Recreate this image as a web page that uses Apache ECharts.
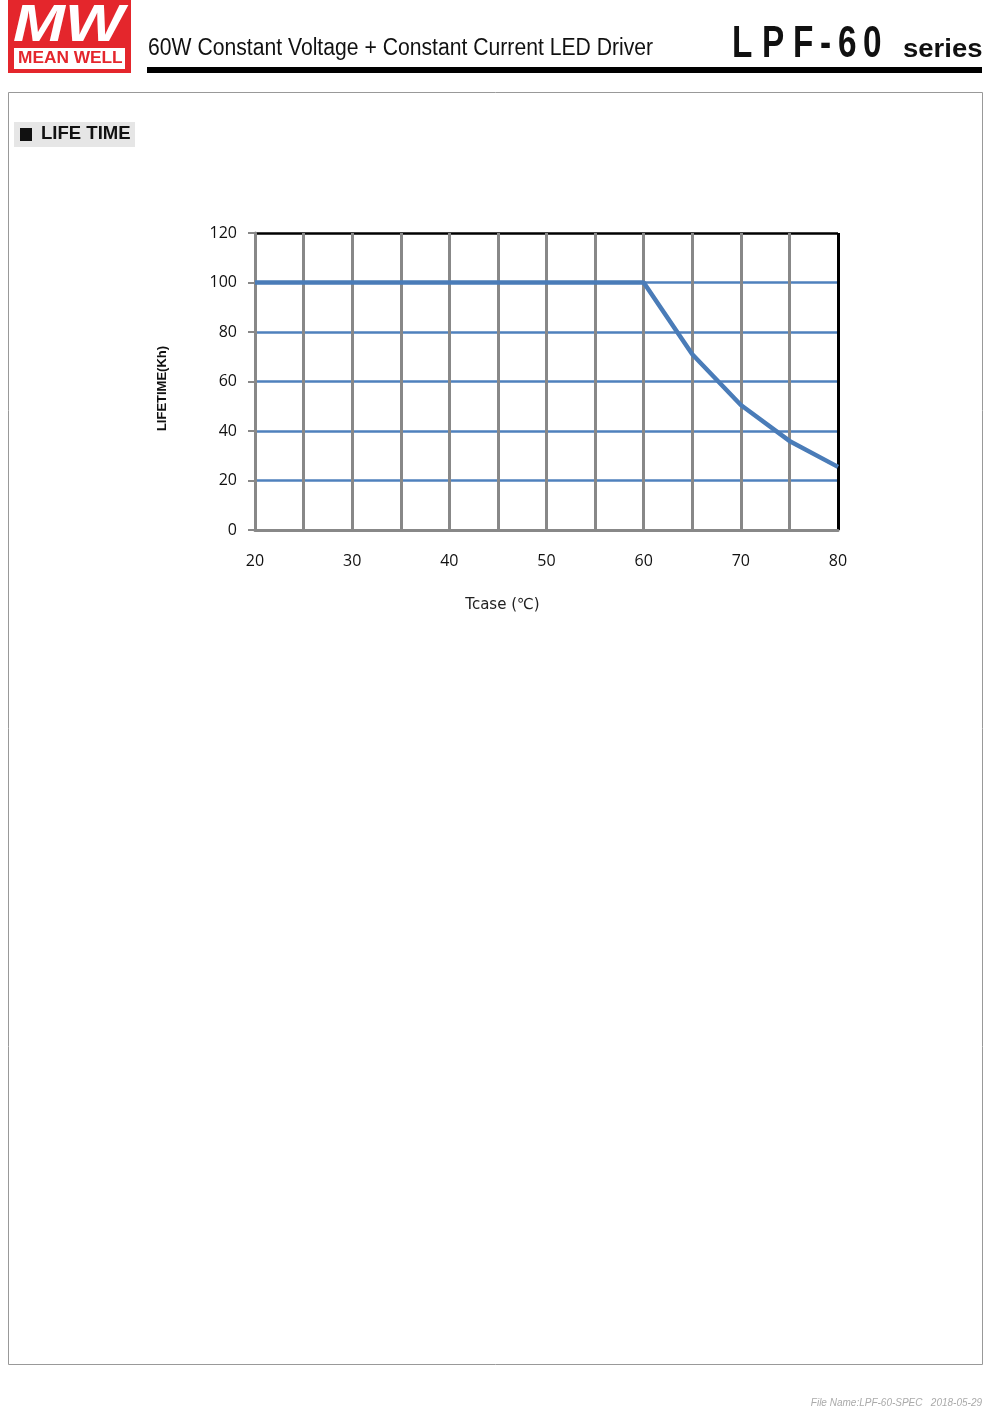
<!DOCTYPE html>
<html>
<head>
<meta charset="utf-8">
<script src="https://cdn.jsdelivr.net/npm/echarts@6/dist/echarts.min.js"></script>
<style>
  html, body { margin: 0; padding: 0; background: #fff; }
  #lifetime { width: 1000px; height: 1414px; }
</style>
</head>
<body>
<div id="lifetime"></div>
<script>
// ==============================================================
// LIFE TIME chart (LPF-60)
// ==============================================================
var tcase = [20, 60, 65, 70, 75, 80];
var lifetimeKh = [100, 100, 71, 50.5, 36, 25.5];
var xLabels = [20, 30, 40, 50, 60, 70, 80];
var yTicks = [0, 20, 40, 60, 80, 100, 120];

var dom = document.getElementById("lifetime");
var myChart = echarts.init(dom, null, { renderer: 'canvas' });

var seriesData = tcase.map(function (t, i) { return [t, lifetimeKh[i]]; });

// header: LPF-60 drawn letter by letter (wide spacing, condensed glyphs)
var model = 'LPF-60';
var modelX = [732, 762, 793, 820, 838, 863];
var modelChars = model.split('').map(function (c, i) {
    return {
        type: 'text', x: modelX[i], y: 22, scaleX: 0.74,
        style: { text: c, x: 0, y: 0, font: 'bold 45px "Liberation Sans", Arial', fill: '#111' }
    };
});

var option = {
    backgroundColor: '#fff',
    animation: false,
    grid: { left: 255, right: 162, top: 233, bottom: 884, containLabel: false },
    xAxis: {
        type: 'value', min: 20, max: 80, interval: 5,
        name: 'Tcase (℃)', nameLocation: 'middle', nameGap: 68,
        nameTextStyle: { color: '#222', fontSize: 15, fontFamily: 'DejaVu Sans', padding: [0, 88, 0, 0] },
        axisLine: { show: true, lineStyle: { color: '#888', width: 3 } },
        axisTick: { show: false },
        axisLabel: {
            margin: 23, color: '#111', fontSize: 16, fontFamily: '"Open Sans", "Liberation Sans"',
            formatter: function (v) { return xLabels.indexOf(v) >= 0 ? String(v) : ''; }
        },
        splitLine: {
            show: true,
            lineStyle: { width: 3, color: ['#888', '#888', '#888', '#888', '#888', '#888', '#888', '#888', '#888', '#888', '#888', '#888', '#000'] }
        }
    },
    yAxis: {
        type: 'value', min: 0, max: 120, interval: 20,
        name: 'LIFETIME(Kh)', nameLocation: 'middle', nameGap: 86, nameRotate: 90,
        nameTextStyle: { color: '#111', fontSize: 13, fontWeight: 'bold', fontFamily: '"Liberation Sans", Arial', padding: [0, 14, 0, 0] },
        axisLine: { show: true, lineStyle: { color: '#888', width: 3 } },
        axisTick: { show: true, length: 7, lineStyle: { color: '#888', width: 2 } },
        axisLabel: { margin: 18, color: '#111', fontSize: 16, fontFamily: '"Open Sans", "Liberation Sans"' },
        splitLine: {
            show: true,
            lineStyle: { width: 2.5, color: ['#888', '#4f81bd', '#4f81bd', '#4f81bd', '#4f81bd', '#4f81bd', '#000'] }
        }
    },
    series: [
        {
            name: 'LIFETIME',
            type: 'line',
            data: seriesData,
            showSymbol: false,
            symbol: 'none',
            lineStyle: { color: '#4a7cb8', width: 4.5 },
            z: 5
        }
    ],
    graphic: [
        // logo
        { type: 'rect', shape: { x: 8, y: 0, width: 123, height: 73 }, style: { fill: '#e4262c' } },
        { type: 'text', x: 13, y: 1, scaleX: 1.2, style: { text: 'MW', x: 0, y: 0, font: 'italic bold 52px "Liberation Sans", Arial', fill: '#fff' } },
        { type: 'rect', shape: { x: 14, y: 48, width: 111, height: 21 }, style: { fill: '#fff' } },
        { type: 'text', x: 18, y: 51, scaleX: 1.08, style: { text: 'MEAN WELL', x: 0, y: 0, font: 'bold 16px "Liberation Sans", Arial', fill: '#e4262c' } },
        // title
        { type: 'text', x: 148, y: 37, scaleX: 0.92, style: { text: '60W Constant Voltage + Constant Current LED Driver', x: 0, y: 0, font: '23px "Liberation Sans", Arial', fill: '#111' } },
        { type: 'text', x: 903, y: 38, scaleX: 1.1, style: { text: 'series', x: 0, y: 0, font: 'bold 25px "Liberation Sans", Arial', fill: '#111' } },
        { type: 'rect', shape: { x: 147, y: 67, width: 835, height: 6 }, style: { fill: '#000' } }
    ].concat(modelChars).concat([
        // page frame
        { type: 'rect', shape: { x: 8.5, y: 92.5, width: 974, height: 1272 }, style: { fill: 'none', stroke: '#999', lineWidth: 1 } },
        // section heading
        { type: 'rect', shape: { x: 14, y: 122, width: 121, height: 25 }, style: { fill: '#e6e6e6' } },
        { type: 'rect', shape: { x: 20, y: 128, width: 12, height: 13 }, style: { fill: '#111' } },
        { type: 'text', x: 41, y: 125, scaleX: 1.03, style: { text: 'LIFE TIME', x: 0, y: 0, font: 'bold 18px "Liberation Sans", Arial', fill: '#111' } },
        // footer
        { type: 'text', right: 18, top: 1398, style: { text: 'File Name:LPF-60-SPEC   2018-05-29', font: 'italic 10px "Liberation Sans", Arial', fill: '#aaa' } }
    ])
};

if (option && typeof option === "object") {
    myChart.setOption(option, true);
    window.addEventListener('resize', function () {
        setTimeout(function () { myChart.resize(); }, 100);
    });
}
// ==============================================================
</script>
</body>
</html>
